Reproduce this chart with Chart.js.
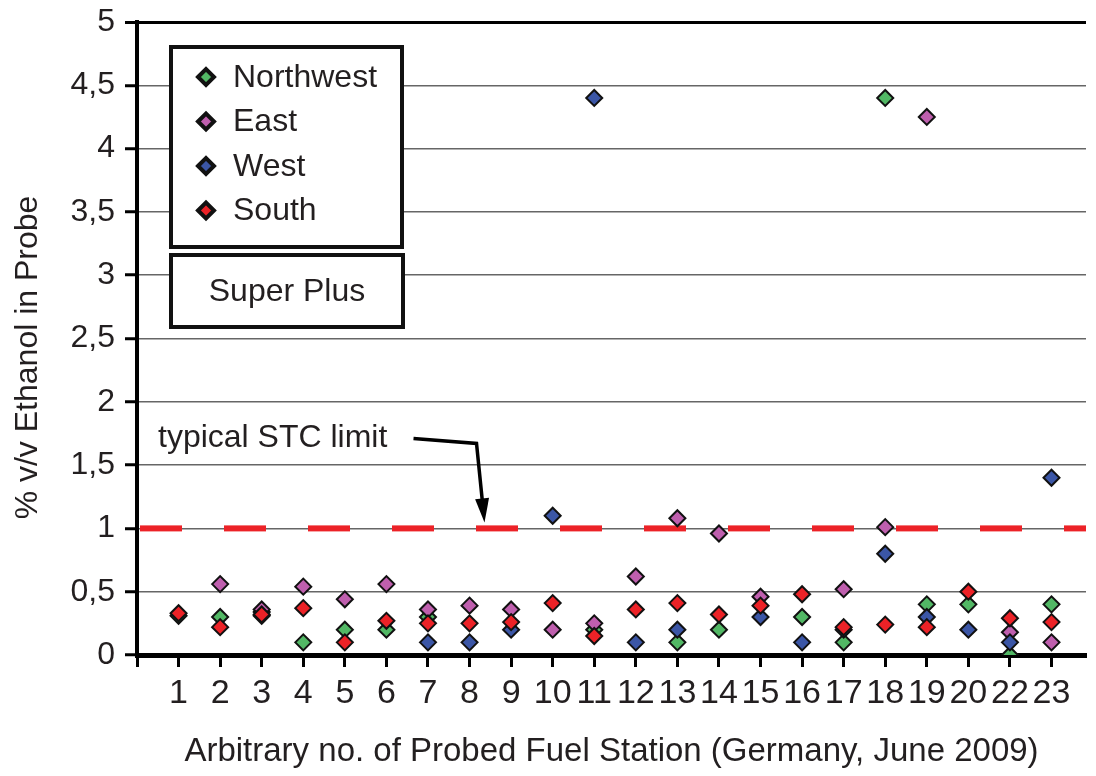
<!DOCTYPE html>
<html>
<head>
<meta charset="utf-8">
<title>Ethanol in Super Plus</title>
<script src="https://cdn.jsdelivr.net/npm/chart.js@4.4.0/dist/chart.umd.min.js"></script>
<style>
  html, body { margin: 0; padding: 0; background: #fff; }
  #wrap { width: 1096px; height: 776px; }
</style>
</head>
<body>
<div id="wrap"><canvas id="ethanolChart" width="1096" height="776"></canvas></div>
<script>
// Probed stations (station 21 has no sample)
const stations = ['1', '2', '3', '4', '5', '6', '7', '8', '9', '10', '11',
                  '12', '13', '14', '15', '16', '17', '18', '19', '20', '22', '23'];

// % v/v ethanol per region, one entry per station (null = no sample)
const northwest = [0.31, 0.30, 0.34, 0.10, 0.20, 0.20, 0.30, null, null, null, 0.20,
                   null, 0.10, 0.20, null, 0.30, 0.10, 4.40, 0.40, 0.40, 0.00, 0.40];
const east      = [null, 0.56, 0.36, 0.54, 0.44, 0.56, 0.36, 0.39, 0.36, 0.20, 0.25,
                   0.62, 1.08, 0.96, 0.46, null, 0.52, 1.01, 4.25, null, 0.18, 0.10];
const west      = [null, null, 0.31, null, null, null, 0.10, 0.10, 0.20, 1.10, 4.40,
                   0.10, 0.20, null, 0.30, 0.10, 0.20, 0.80, 0.30, 0.20, 0.10, 1.40];
const south     = [0.33, 0.22, 0.32, 0.37, 0.10, 0.27, 0.25, 0.25, 0.26, 0.41, 0.15,
                   0.36, 0.41, 0.32, 0.39, 0.48, 0.22, 0.24, 0.22, 0.50, 0.29, 0.26];

const stcLimit = 1;
const arrowAt = 8.36; // where the limit arrow points on the x axis

const FONT = "'Liberation Sans', Arial, Helvetica, sans-serif";
const INK = '#231f20';
const xMax = stations.length + 0.83;

function toPoints(values) {
    return values
        .map((v, i) => v === null ? null : { x: i + 1, y: v })
        .filter(p => p !== null);
}

function region(label, values, color, order) {
    return {
        type: 'scatter',
        label: label,
        data: toPoints(values),
        order: order,
        showLine: false,
        pointStyle: 'rectRot',
        pointRadius: 8,
        pointHoverRadius: 8,
        pointBorderWidth: 2,
        pointBackgroundColor: color,
        backgroundColor: color,
        pointBorderColor: '#111',
        borderColor: '#111'
    };
}

// Legend, product box, y title and the limit arrow
const overlay = {
    id: 'overlay',
    afterDatasetsDraw(chart) {
        const { ctx, chartArea, scales } = chart;
        ctx.save();

        // legend box
        const lx = chartArea.left + 34, ly = chartArea.top + 25, lw = 231, lh = 200;
        ctx.fillStyle = '#fff';
        ctx.fillRect(lx, ly, lw, lh);
        ctx.lineWidth = 4;
        ctx.strokeStyle = '#111';
        ctx.strokeRect(lx, ly, lw, lh);

        const regions = chart.data.datasets.filter(d => d.type === 'scatter');
        ctx.font = '32px ' + FONT;
        ctx.textBaseline = 'middle';
        ctx.textAlign = 'left';
        regions.forEach((d, i) => {
            const ry = ly + 30 + i * 44.5;
            ctx.fillStyle = d.pointBackgroundColor;
            ctx.strokeStyle = '#111';
            Chart.helpers.drawPoint(ctx, { pointStyle: 'rectRot', radius: 8, borderWidth: 2, rotation: 0 }, lx + 35, ry);
            ctx.fillStyle = INK;
            ctx.fillText(d.label, lx + 62, ry + 1);
        });

        // product box
        const bx = lx, by = ly + lh + 8, bw = 232, bh = 72;
        ctx.fillStyle = '#fff';
        ctx.fillRect(bx, by, bw, bh);
        ctx.lineWidth = 4;
        ctx.strokeStyle = '#111';
        ctx.strokeRect(bx, by, bw, bh);
        ctx.fillStyle = INK;
        ctx.textAlign = 'center';
        ctx.fillText('Super Plus', bx + bw / 2, by + bh / 2 + 1);

        // y axis title
        ctx.save();
        ctx.translate(28, (chartArea.top + chartArea.bottom) / 2 + 19);
        ctx.rotate(-Math.PI / 2);
        ctx.fillText('% v/v Ethanol in Probe', 0, 0);
        ctx.restore();

        // limit annotation with arrow
        const tipX = scales.x.getPixelForValue(arrowAt);
        const tipY = scales.y.getPixelForValue(stcLimit) - 6;
        ctx.textAlign = 'left';
        ctx.textBaseline = 'alphabetic';
        ctx.fillText('typical STC limit', chartArea.left + 21, tipY - 75);

        const p0 = { x: tipX - 71, y: tipY - 84 };
        const p1 = { x: tipX - 8, y: tipY - 79 };
        const ang = Math.atan2(tipY - p1.y, tipX - p1.x);
        const headLen = 24, headHalf = 7;
        const bxh = tipX - Math.cos(ang) * headLen, byh = tipY - Math.sin(ang) * headLen;
        ctx.strokeStyle = '#000';
        ctx.lineWidth = 3.5;
        ctx.lineJoin = 'miter';
        ctx.beginPath();
        ctx.moveTo(p0.x, p0.y);
        ctx.lineTo(p1.x, p1.y);
        ctx.lineTo(bxh + Math.cos(ang) * 2, byh + Math.sin(ang) * 2);
        ctx.stroke();
        ctx.fillStyle = '#000';
        ctx.beginPath();
        ctx.moveTo(tipX, tipY);
        ctx.lineTo(bxh + Math.sin(ang) * headHalf, byh - Math.cos(ang) * headHalf);
        ctx.lineTo(bxh - Math.sin(ang) * headHalf, byh + Math.cos(ang) * headHalf);
        ctx.closePath();
        ctx.fill();

        ctx.restore();
    }
};

const ctx = document.getElementById('ethanolChart').getContext('2d');
const ethanolChart = new Chart(ctx, {
    type: 'scatter',
    data: {
        datasets: [
            region('Northwest', northwest, '#52b865', 4),
            region('East', east, '#bf5fae', 3),
            region('West', west, '#3b56a6', 2),
            region('South', south, '#ec2227', 1),
            {
                type: 'line',
                label: 'typical STC limit',
                data: [{ x: 0, y: stcLimit }, { x: xMax, y: stcLimit }],
                order: 5,
                borderColor: '#ec2227',
                borderWidth: 6,
                borderDash: [42, 42],
                borderDashOffset: 81,
                pointRadius: 0,
                fill: false
            }
        ]
    },
    options: {
        responsive: false,
        animation: false,
        devicePixelRatio: 1,
        layout: { padding: { top: 22, right: 0, bottom: 0, left: 0 } },
        scales: {
            x: {
                type: 'linear',
                min: 0,
                max: xMax,
                afterFit: s => { s.height = 121; s.paddingLeft = 0; s.paddingRight = 0; },
                border: { color: '#000', width: 5 },
                grid: {
                    drawOnChartArea: false,
                    drawTicks: true,
                    tickLength: 12,
                    tickWidth: 3,
                    tickColor: '#000'
                },
                ticks: {
                    stepSize: 1,
                    includeBounds: false,
                    autoSkip: false,
                    maxRotation: 0,
                    padding: 6,
                    color: INK,
                    font: { family: FONT, size: 34 },
                    callback: function (value) {
                        return (Number.isInteger(value) && value >= 1 && value <= stations.length)
                            ? stations[value - 1] : '';
                    }
                },
                title: {
                    display: true,
                    text: 'Arbitrary no. of Probed Fuel Station (Germany, June 2009)',
                    color: INK,
                    font: { family: FONT, size: 33 },
                    padding: { top: 0, bottom: 4 }
                }
            },
            y: {
                min: 0,
                max: 5,
                afterFit: s => { s.width = 137; s.paddingTop = 0; s.paddingBottom = 0; },
                border: { color: '#000', width: 4 },
                grid: {
                    color: c => c.tick && c.tick.value === 5 ? '#000' : '#666',
                    lineWidth: c => c.tick && c.tick.value === 5 ? 3 : 1.5,
                    drawTicks: true,
                    tickLength: 12,
                    tickWidth: 3,
                    tickColor: '#000'
                },
                ticks: {
                    stepSize: 0.5,
                    padding: 10,
                    color: INK,
                    font: { family: FONT, size: 32 },
                    callback: value => String(value).replace('.', ',')
                }
            }
        },
        plugins: {
            legend: { display: false },
            tooltip: { enabled: false }
        }
    },
    plugins: [overlay]
});
</script>
</body>
</html>
